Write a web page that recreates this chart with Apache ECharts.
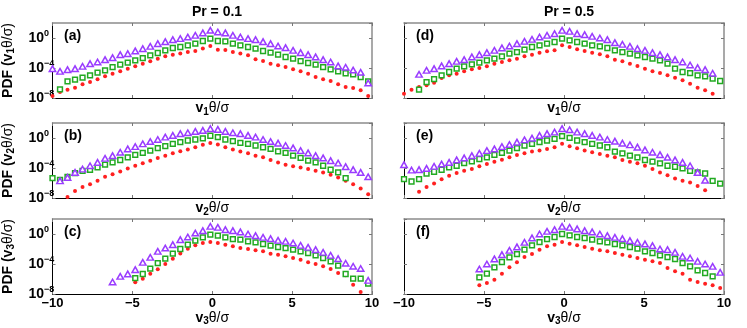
<!DOCTYPE html>
<html>
<head>
<meta charset="utf-8">
<script src="https://cdn.jsdelivr.net/npm/echarts@6/dist/echarts.min.js"></script>
<style>html,body{margin:0;background:#fff}#main{width:747px;height:328px}</style>
</head>
<body>
<div id="main"></div>
<script>
// bin centres shared by all panels
var xs = [-10.00, -9.53, -9.06, -8.59, -8.12, -7.65, -7.18, -6.71, -6.24, -5.76, -5.29,
	-4.82, -4.35, -3.88, -3.41, -2.94, -2.47, -2.00, -1.53, -1.06, -0.59, -0.12,
	0.35, 0.82, 1.29, 1.76, 2.24, 2.71, 3.18, 3.65, 4.12, 4.59, 5.06, 5.53, 6.00,
	6.47, 6.94, 7.41, 7.88, 8.35, 8.82, 9.29, 9.76];

// log10(PDF), null = no point
var aTri = [-4.09, -4.44, -4.22, -4.09, -3.78, -3.42, -3.2, -2.89, -2.62, -2.22, -2.09, -1.73, -1.42, -1.11, -0.76, -0.49, -0.22,
	-0.08, 0.13, 0.36, 0.67, 1.03, 0.8, 0.67, 0.36, 0.13, -0.08, -0.22, -0.49, -0.76, -1.07, -1.29, -1.64, -1.96, -2.22, -2.53,
	-2.89, -3.2, -3.73, -3.9, -4.27, -4.57, -6.0];
var aSq = [null, -6.84, -5.77, -5.56, -5.29, -4.98, -4.62, -4.31, -3.87, -3.56, -3.29, -2.98, -2.67, -2.31, -2.0, -1.64, -1.33,
	-1.2, -0.97, -0.75, -0.4, -0.08, -0.4, -0.45, -0.75, -0.97, -1.2, -1.42, -1.73, -1.96, -2.22, -2.53, -2.76, -3.07, -3.33, -3.56,
	-3.87, -4.18, -4.45, -4.7, -4.85, -5.2, -5.8];
var aDot = [-7.73, -7.2, -6.89, -6.62, -6.18, -5.87, -5.51, -5.11, -4.76, -4.44, -4.09, -3.78, -3.42, -3.11, -2.76, -2.44, -2.22,
	-2.08, -1.87, -1.73, -1.41, -1.07, -1.55, -1.6, -1.87, -2.08, -2.31, -2.84, -3.07, -3.42, -3.64, -3.87, -4.18, -4.44, -4.76, -5.2,
	-5.5, -5.73, -6.17, -6.53, -6.67, -6.97, -7.73];

var bTri = [null, -5.71, -5.26, -4.59, -4.14, -3.70, -3.25, -2.71, -2.35, -1.90, -1.45, -1.14, -0.78, -0.47, -0.2, 0.12, 0.34,
	0.57, 0.7, 0.88, 1.01, 1.24, 1.15, 0.88, 0.7, 0.57, 0.34, 0.12, -0.2, -0.47, -0.69, -1.0, -1.32, -1.68, -1.99, -2.35,
	-2.66, -3.02, -3.34, -3.83, -4.23, -4.59, -5.17];
var bSq = [-5.35, -5.58, -5.17, -4.68, -4.37, -4.23, -3.92, -3.56, -3.25, -2.93, -2.57, -2.26, -1.99, -1.68, -1.36, -1.09, -0.78,
	-0.56, -0.33, -0.2, -0.05, 0.3, 0.12, -0.2, -0.42, -0.65, -0.78, -1.0, -1.23, -1.45, -1.77, -1.99, -2.35, -2.66, -3.02, -3.25,
	-3.7, -4.23, -4.59, -5.35, null, null, null];
var bDot = [null, null, -7.87, -7.06, -6.52, -6.16, -5.71, -5.17, -4.82, -4.46, -4.05, -3.7, -3.38, -3.02, -2.66, -2.35, -2.04,
	-1.77, -1.54, -1.23, -0.91, -0.65, -0.87, -1.23, -1.54, -1.81, -2.04, -2.35, -2.57, -2.93, -3.25, -3.56, -3.78, -3.92, -4.14, -4.37,
	-4.59, -4.91, -5.26, -5.71, -6.16, -6.74, -7.51];

var cTri = [null, null, null, null, null, null, null, null, -6.4, -5.64, -5.33, -4.76, -3.78, -3.11, -2.31, -1.87, -1.42,
	-0.76, -0.4, 0.13, 0.44, 1.02, 0.89, 0.58, 0.44, 0.27, 0.0, -0.22, -0.44, -0.62, -0.84, -0.98, -1.2, -1.51, -1.78, -2.09,
	-2.44, -2.84, -3.29, -3.9, -4.3, -4.6, -6.18];
var cSq = [null, null, null, null, null, null, null, null, null, null, null, -5.87, -5.33, -4.62, -3.87, -3.29, -2.62,
	-2.0, -1.42, -0.89, -0.44, -0.09, -0.22, -0.44, -0.67, -0.76, -0.98, -1.11, -1.33, -1.56, -1.73, -1.87, -2.09, -2.31, -2.53, -2.84,
	-3.2, -3.64, -4.22, -5.33, -5.96, -5.96, -6.62];
var cDot = [null, null, null, null, null, null, null, null, null, null, null, -6.44, -5.96, -5.3, -4.7, -4.0, -3.3,
	-2.6, -1.95, -1.5, -1.2, -1.05, -1.2, -1.42, -1.64, -1.87, -2.0, -2.18, -2.31, -2.62, -2.76, -2.98, -3.2, -3.42, -3.78, -4.0,
	-4.31, -4.67, -5.2, -5.51, -6.76, -7.73, null];

var dTri = [null, null, -4.84, -4.31, -4.09, -3.73, -3.42, -3.11, -2.89, -2.53, -2.22, -1.96, -1.64, -1.33, -1.07, -0.76, -0.44,
	-0.18, 0.13, 0.36, 0.58, 1.02, 0.89, 0.58, 0.44, 0.22, 0.0, -0.22, -0.62, -0.84, -1.11, -1.42, -1.64, -1.96, -2.22, -2.53,
	-2.89, -3.2, -3.6, -3.95, -4.22, -4.7, null];
var dSq = [null, null, -6.89, -5.87, -5.47, -4.98, -4.53, -4.09, -3.78, -3.51, -3.29, -2.98, -2.76, -2.44, -2.09, -1.87, -1.56,
	-1.2, -0.98, -0.76, -0.53, -0.09, -0.31, -0.53, -0.76, -0.98, -1.11, -1.33, -1.64, -1.87, -2.09, -2.31, -2.53, -2.76, -2.98, -3.42,
	-4.09, -4.53, -4.67, -4.98, -5.11, -5.42, -5.73];
var dDot = [-7.42, -6.89, -6.53, -6.31, -5.96, -5.33, -4.98, -4.76, -4.44, -4.18, -4.0, -3.78, -3.42, -3.2, -2.98, -2.76, -2.44,
	-2.22, -1.96, -1.78, -1.64, -0.98, -1.2, -1.51, -1.73, -1.96, -2.18, -2.44, -2.89, -3.11, -3.42, -3.73, -4.09, -4.44, -4.67, -4.98,
	-5.29, -5.64, -6.09, -6.62, -6.98, -7.42, null];

var eTri = [-3.56, -4.28, -4.23, -4.05, -3.78, -3.47, -3.25, -2.93, -2.66, -2.35, -2.04, -1.68, -1.45, -1.14, -0.87, -0.56, -0.24,
	-0.02, 0.34, 0.57, 0.79, 1.24, 1.1, 0.79, 0.57, 0.34, 0.12, -0.2, -0.42, -0.69, -0.91, -1.23, -1.59, -1.9, -2.22, -2.57,
	-2.93, -3.25, -3.7, -4.59, -5.62, null, null];
var eSq = [-5.49, -5.8, -5.49, -4.73, -4.5, -4.23, -3.92, -3.7, -3.34, -3.11, -2.8, -2.57, -2.26, -1.99, -1.68, -1.36, -1.0,
	-0.78, -0.56, -0.33, -0.11, 0.25, 0.03, -0.33, -0.56, -0.78, -1.0, -1.23, -1.81, -2.04, -2.35, -2.57, -2.93, -3.16, -3.38, -3.7,
	-3.83, -4.05, -4.37, -4.59, -4.73, -5.71, -6.07];
var eDot = [null, null, -7.15, -6.52, -6.07, -5.49, -5.04, -4.68, -4.37, -4.14, -3.78, -3.47, -3.16, -2.89, -2.57, -2.26, -2.04,
	-1.81, -1.68, -1.45, -1.23, -0.78, -1.09, -1.36, -1.68, -1.9, -2.13, -2.35, -2.57, -2.93, -3.16, -3.38, -3.7, -4.14, -4.59, -4.95,
	-5.4, -5.71, -5.94, -6.39, -6.97, null, null];

var fTri = [null, null, null, null, null, null, null, null, null, null, -4.67, -4.0, -3.33, -2.76, -2.18, -1.73, -1.11,
	-0.53, 0.0, 0.36, 0.58, 1.02, 0.89, 0.67, 0.44, 0.27, 0.0, -0.22, -0.44, -0.62, -0.89, -1.11, -1.33, -1.56, -2.0, -2.09,
	-2.44, -2.98, -3.2, -3.64, -4.0, -4.31, -5.11];
var fSq = [null, null, null, null, null, null, null, null, null, null, -5.78, -5.29, -4.44, -3.73, -3.11, -2.67, -2.09,
	-1.51, -1.07, -0.67, -0.4, 0.0, -0.18, -0.4, -0.53, -0.76, -0.98, -1.11, -1.33, -1.51, -1.73, -1.96, -2.31, -2.53, -2.84, -3.07,
	-3.33, -3.87, -4.31, -4.84, -5.2, -5.64, null];
var fDot = [null, null, null, null, null, null, null, null, null, null, -6.84, -6.53, -6.09, -5.29, -4.44, -3.78, -3.07,
	-2.67, -2.09, -1.64, -1.42, -1.07, -1.29, -1.51, -1.73, -1.96, -2.18, -2.31, -2.53, -2.76, -2.98, -3.2, -3.42, -3.64, -3.87, -4.53,
	-4.98, -5.29, -6.09, -6.4, -6.62, -6.84, -7.2];

var colTitles = ['Pr = 0.1', 'Pr = 0.5'];
var panelTags = ['(a)', '(b)', '(c)', '(d)', '(e)', '(f)'];
var velIndex = ['1', '2', '3'];

var FONT = '"Liberation Sans", Arial, sans-serif';
var panels = [
	{col: 0, row: 0, tri: aTri, sq: aSq, dot: aDot},
	{col: 0, row: 1, tri: bTri, sq: bSq, dot: bDot},
	{col: 0, row: 2, tri: cTri, sq: cSq, dot: cDot},
	{col: 1, row: 0, tri: dTri, sq: dSq, dot: dDot},
	{col: 1, row: 1, tri: eTri, sq: eSq, dot: eDot},
	{col: 1, row: 2, tri: fTri, sq: fSq, dot: fDot}
];
var colLeft = [52, 404];
var rowTop = [23, 123, 219];

function pairs(vals){
	var out = [];
	for(var i = 0; i < xs.length; i++){
		if(vals[i] !== null && vals[i] !== undefined) out.push([xs[i], vals[i]]);
	}
	return out;
}

var richText = {
	b: {fontSize: 14, fontWeight: 'bold', fontFamily: FONT, color: '#000'},
	sub: {fontSize: 10, fontWeight: 'bold', fontFamily: FONT, color: '#000', padding: [7, 0, 0, 0]},
	g: {fontSize: 14, fontFamily: FONT, color: '#000'}
};
var tickRich = {
	b: {fontSize: 14, fontWeight: 'bold', fontFamily: FONT, color: '#000', lineHeight: 16},
	s: {fontSize: 9, fontWeight: 'bold', fontFamily: FONT, color: '#000', lineHeight: 10, padding: [0, 0, 9, 0]}
};

var grids = [], xAxes = [], yAxes = [], series = [], titles = [], graphics = [];
var tickStyle = {show: true, inside: true, length: 3, lineStyle: {color: '#777', width: 1}};

panels.forEach(function(p, i){
	var left = colLeft[p.col], top = rowTop[p.row];
	grids.push({left: left, top: top, width: 320, height: 75, containLabel: false});
	var lastRow = p.row === 2;
	xAxes.push({
		gridIndex: i, type: 'value', min: -10, max: 10, interval: 5, position: 'bottom',
		axisLine: {onZero: false, lineStyle: {color: '#000', width: 1}},
		axisTick: tickStyle,
		axisLabel: {show: lastRow, margin: 3, fontSize: 13, fontWeight: 'bold', fontFamily: FONT, color: '#000',
			formatter: function(v){ return v < 0 ? '\u2212' + Math.abs(v) : '' + v; }},
		splitLine: {show: false},
		name: '{b|v}{sub|' + velIndex[p.row] + '}{g|\u03b8/\u03c3}',
		nameLocation: 'middle', nameGap: lastRow ? 14 : 2,
		nameTextStyle: {rich: richText, verticalAlign: 'top'}
	});
	xAxes.push({
		gridIndex: i, type: 'value', min: -10, max: 10, interval: 5, position: 'top',
		axisLine: {onZero: false, lineStyle: {color: '#8c8c8c', width: 1.5}},
		axisTick: tickStyle, axisLabel: {show: false}, splitLine: {show: false}
	});
	yAxes.push({
		gridIndex: i, type: 'value', min: -8, max: 2, interval: 4, position: 'left',
		axisLine: {onZero: false, lineStyle: {color: '#000', width: 1}},
		axisTick: tickStyle,
		axisLabel: {show: p.col === 0, align: 'left', margin: 24, showMaxLabel: false, hideOverlap: false, rich: tickRich,
			formatter: function(v){
				if(v > 0) return '';
				return '{b|10}{s|' + (v === 0 ? '0' : '\u2212' + Math.abs(v)) + '}';
			}},
		splitLine: {show: false},
		name: p.col === 0 ? '{b|PDF (v}{sub|' + velIndex[p.row] + '}{g|\u03b8/\u03c3)}' : '',
		nameLocation: 'middle', nameRotate: 90, nameGap: 36,
		nameTextStyle: {rich: richText}
	});
	yAxes.push({
		gridIndex: i, type: 'value', min: -8, max: 2, interval: 4, position: 'right',
		axisLine: {onZero: false, lineStyle: {color: '#8c8c8c', width: 1.5}},
		axisTick: tickStyle, axisLabel: {show: false}, splitLine: {show: false}
	});
	series.push({
		type: 'scatter', xAxisIndex: 2 * i, yAxisIndex: 2 * i, data: pairs(p.dot),
		symbol: 'circle', symbolSize: 4, itemStyle: {color: '#ff2020', opacity: 1}, silent: true
	});
	series.push({
		type: 'scatter', xAxisIndex: 2 * i, yAxisIndex: 2 * i, data: pairs(p.sq),
		symbol: 'rect', symbolSize: 4.8, itemStyle: {color: '#fff', borderColor: '#22aa22', borderWidth: 1.5, opacity: 1}, silent: true
	});
	series.push({
		type: 'scatter', xAxisIndex: 2 * i, yAxisIndex: 2 * i, data: pairs(p.tri),
		symbol: 'triangle', symbolSize: [6.4, 5.6], itemStyle: {color: '#fff', borderColor: '#9a3cff', borderWidth: 1.5, opacity: 1}, silent: true
	});
	graphics.push({
		type: 'text', left: left + 12, top: top + 6,
		style: {text: panelTags[i], font: 'bold 14px ' + FONT, fill: '#000'}
	});
});

colTitles.forEach(function(t, c){
	titles.push({
		text: t, left: colLeft[c] + 160, top: 0, textAlign: 'center',
		textStyle: {fontSize: 14, fontWeight: 'bold', fontFamily: FONT, color: '#000'}
	});
});

var chart = echarts.init(document.getElementById('main'), null, {renderer: 'canvas'});
chart.setOption({
	backgroundColor: '#fff',
	animation: false,
	title: titles,
	grid: grids,
	xAxis: xAxes,
	yAxis: yAxes,
	series: series,
	graphic: graphics
});
</script>
</body>
</html>
